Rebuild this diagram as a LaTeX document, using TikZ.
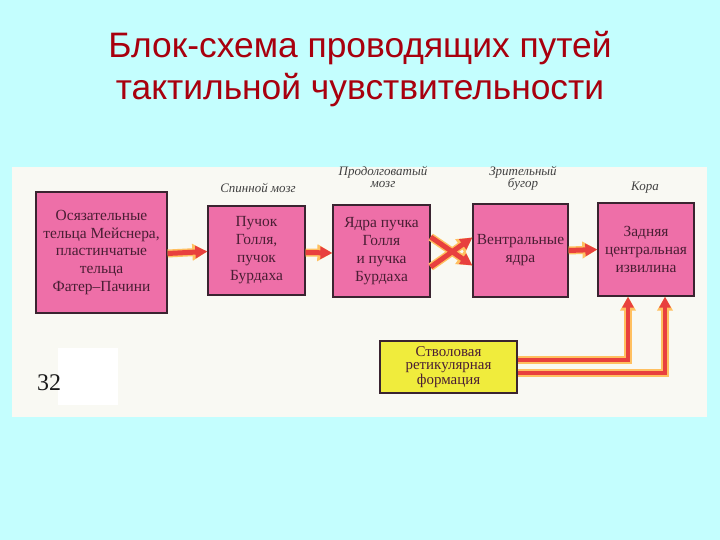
\documentclass[tikz,border=0pt]{standalone}
\usepackage{fontspec}
\setmainfont{Liberation Serif}
\newfontfamily\titlefont{Liberation Sans}
\usetikzlibrary{arrows.meta}
\definecolor{bgcyan}{HTML}{C4FEFE}
\definecolor{panel}{HTML}{F9F9F3}
\definecolor{pinkbox}{HTML}{EE6FA8}
\definecolor{yelbox}{HTML}{F0EC3C}
\definecolor{boxline}{HTML}{3A2430}
\definecolor{boxtext}{HTML}{4A1E34}
\definecolor{titlered}{HTML}{A8000E}
\definecolor{arrred}{HTML}{E8403E}
\definecolor{arrglow}{HTML}{FFC060}
\tikzset{
  pbox/.style={draw=boxline, line width=1.3bp, fill=pinkbox, text=boxtext, align=center, inner sep=0pt,
    font=\fontsize{15.5}{18}\selectfont},
  ybox/.style={draw=boxline, line width=1.3bp, fill=yelbox, text=boxtext, align=center, inner sep=0pt,
    font=\fontsize{15}{13.5}\selectfont},
  lbl/.style={text=black!75, align=center, inner sep=0pt, font=\fontsize{13}{12.5}\selectfont\itshape},
  glow/.style={draw=arrglow, line width=8bp, -{Triangle[length=15bp,width=16bp]}},
  core/.style={draw=arrred, line width=5bp, -{Triangle[length=12bp,width=12bp]}},
  glowl/.style={draw=arrglow, line width=7.5bp, line join=miter, -{Triangle[length=14bp,width=15bp]}},
  corel/.style={draw=arrred, line width=4.5bp, line join=miter, -{Triangle[length=11bp,width=11bp]}},
}
\begin{document}
\begin{tikzpicture}[x=1bp,y=-1bp]
\fill[bgcyan] (0,0) rectangle (720,540);
\useasboundingbox (0,0) rectangle (720,540);
\fill[panel] (12,167) rectangle (707,417);
\node[text=titlered, inner sep=0pt, font=\titlefont\fontsize{35.5}{43}\selectfont, align=center, anchor=base] (title) at (360,100)
  {Блок-схема проводящих путей\\тактильной чувствительности};
\node[pbox, minimum width=131bp, minimum height=121bp] (b1) at (101.5,252.5)
  {Осязательные\\тельца Мейснера,\\пластинчатые\\тельца\\Фатер–Пачини};
\node[pbox, minimum width=97bp, minimum height=89bp] (b2) at (256.5,250.5)
  {Пучок\\Голля,\\пучок\\Бурдаха};
\node[pbox, minimum width=97bp, minimum height=92bp] (b3) at (381.5,251)
  {Ядра пучка\\Голля\\и пучка\\Бурдаха};
\node[pbox, minimum width=95bp, minimum height=93bp] (b4) at (520.5,250.5)
  {Вентральные\\ядра};
\node[pbox, minimum width=96bp, minimum height=93bp] (b5) at (646,249.5)
  {Задняя\\центральная\\извилина};
\node[ybox, minimum width=137bp, minimum height=52bp] (rf) at (448.5,367)
  {Стволовая\\ретикулярная\\формация};
\node[lbl, anchor=base] (l2) at (258,193) {Спинной мозг};
\node[lbl, anchor=base] (l3) at (383,188) {Продолговатый\\мозг};
\node[lbl, anchor=base] (l4) at (523,188) {Зрительный\\бугор};
\node[lbl, anchor=base] (l5) at (645,191) {Кора};
\fill[white] (58,348) rectangle (118,405);
\node[anchor=base west, inner sep=0pt, text=black!90, font=\fontsize{24}{24}\selectfont] (num) at (37,390) {32};
% arrows
\foreach \s in {glow,core}{
  \draw[\s] ([yshift=-1bp]b1.east) -- ([yshift=-1bp]b2.west);
  \draw[\s] ([yshift=-2bp]b2.east) -- ([yshift=-2bp]b3.west);
  \draw[\s] (b4.east) -- (b5.west);
}
\foreach \s in {glow,core}{
  \draw[\s] ([yshift=14bp]b3.east) -- ([yshift=-15bp]b4.west);
  \draw[\s] ([yshift=-16bp]b3.east) -- ([yshift=13bp]b4.west);
}
\foreach \s in {glowl,corel}{
  \draw[\s] ([yshift=7bp]rf.east) -| ([xshift=-18bp]b5.south);
  \draw[\s] ([yshift=-6bp]rf.east) -| ([xshift=19bp]b5.south);
}
\end{tikzpicture}
\end{document}
